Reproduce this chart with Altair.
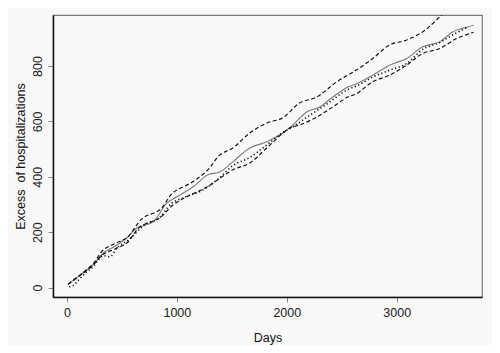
import altair as alt
import pandas as pd

# Estimated excess (solid grey)
est_days = [10, 120, 236, 330, 440, 545, 636, 782, 909, 1000, 1145, 1282, 1391, 1509, 1664, 1818,
            1964, 2055, 2182, 2300, 2418, 2555, 2636, 2782, 2936, 3091, 3236, 3391, 3509, 3645, 3700]
est_vals = [12, 45, 82, 125, 150, 180, 215, 237, 305, 328, 363, 407, 417, 454, 504, 526,
            558, 587, 634, 652, 688, 724, 736, 767, 803, 827, 869, 887, 923, 941, 947]

# Upper bound (dashed)
up_days = [10, 120, 236, 330, 440, 545, 690, 845, 964, 1145, 1282, 1391, 1509, 1664, 1818, 1964,
           2118, 2273, 2455, 2636, 2782, 2936, 3091, 3236, 3327, 3409, 3480]
up_vals = [12, 46, 85, 136, 160, 180, 251, 281, 342, 382, 425, 479, 504, 558, 594, 613,
           667, 688, 743, 786, 827, 876, 894, 923, 953, 984, 1010]

# Lower bound (dashed)
lo_days = [10, 120, 236, 330, 440, 545, 664, 845, 964, 1091, 1273, 1509, 1664, 1818, 2027, 2118,
           2273, 2418, 2555, 2636, 2782, 2936, 3091, 3236, 3391, 3545, 3664, 3700]
lo_vals = [12, 44, 80, 120, 140, 161, 219, 252, 298, 328, 363, 425, 450, 504, 576, 587,
           616, 652, 688, 700, 743, 767, 803, 845, 863, 899, 917, 922]

# Observed (dotted)
obs_days = [20, 60, 100, 160, 236, 330, 390, 450, 570, 700, 850, 940, 1055, 1236, 1370, 1509,
            1664, 1818, 1964, 2055, 2182, 2355, 2555, 2636, 2782, 2936, 3091, 3236, 3391, 3545, 3645]
obs_vals = [3, 8, 25, 50, 75, 115, 111, 140, 175, 225, 255, 300, 324, 352, 390, 440,
            470, 515, 560, 580, 615, 660, 715, 728, 760, 785, 809, 860, 885, 920, 940]

rows = []
for name, ds, vs in [("est", est_days, est_vals), ("up", up_days, up_vals),
                     ("lo", lo_days, lo_vals), ("obs", obs_days, obs_vals)]:
    for d, v in zip(ds, vs):
        rows.append({"series": name, "day": d, "value": v})
df = pd.DataFrame(rows)

FONT = "Liberation Sans"

x = alt.X("day:Q",
          scale=alt.Scale(domain=[-127, 3776], nice=False, zero=False),
          axis=alt.Axis(values=[0, 1000, 2000, 3000], format="d", title="Days",
                        grid=False, titleX=214.5, titleY=40, titleBaseline="middle",
                        titleAlign="center", labelPadding=4))
y = alt.Y("value:Q",
          scale=alt.Scale(domain=[-34, 984], nice=False, zero=False),
          axis=alt.Axis(values=[0, 200, 400, 600, 800], format="d",
                        title="Excess\u00a0\u00a0of hospitalizations", grid=False,
                        labelAngle=270, labelAlign="center", labelBaseline="bottom",
                        labelPadding=4, titleX=-33, titleY=141, titleAlign="center",
                        titleBaseline="middle", titleAngle=270))

base = alt.Chart(df).encode(x=x, y=y, detail="series:N")

est = base.transform_filter(alt.datum.series == "est").mark_line(
    color="#7a7a7a", strokeWidth=1.1, interpolate="catmull-rom", clip=True)
up = base.transform_filter(alt.datum.series == "up").mark_line(
    color="#111111", strokeWidth=1.15, strokeDash=[4, 2.5], interpolate="catmull-rom", clip=True)
lo = base.transform_filter(alt.datum.series == "lo").mark_line(
    color="#111111", strokeWidth=1.15, strokeDash=[4, 2.5], interpolate="catmull-rom", clip=True)
obs = base.transform_filter(alt.datum.series == "obs").mark_line(
    color="#111111", strokeWidth=1.6, strokeDash=[1.2, 2.5], interpolate="monotone", clip=True)

chart = alt.layer(est, up, lo, obs).properties(
    width=429, height=282,
    autosize=alt.AutoSizeParams(type="none"),
    padding={"left": 45, "top": 7, "right": 10, "bottom": 48},
    background="#f8f8f8",
).configure_view(
    stroke="#777777", strokeWidth=1.2, fill="#f8f8f8"
).configure_axis(
    domainColor="#111111", domainWidth=1.5,
    tickColor="#888888", tickSize=5, tickWidth=1,
    labelFont=FONT, labelFontSize=12.5, labelColor="#222222",
    titleFont=FONT, titleFontSize=12.5, titleColor="#111111", titleFontWeight="normal",
)

chart.save("out.html", embed_options={"renderer": "svg", "actions": False})
